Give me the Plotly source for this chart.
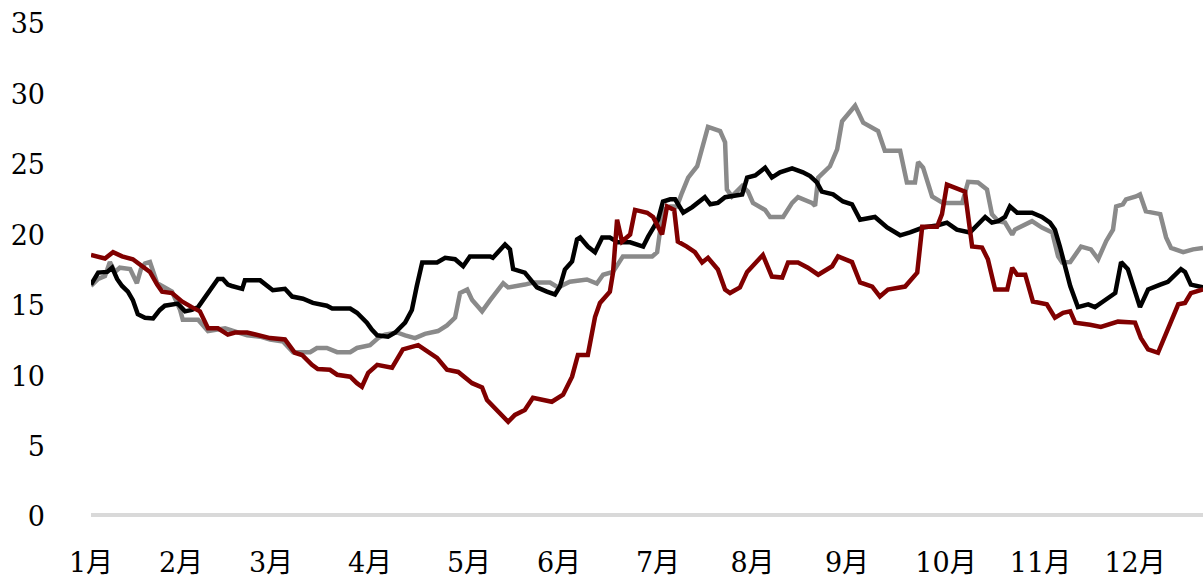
"""Three-series line chart, Jan-Dec, trading-day index on x."""

import plotly.graph_objects as go

# month labels and their trading-day positions
month_labels = ["1月", "2月", "3月", "4月", "5月", "6月",
                "7月", "8月", "9月", "10月", "11月", "12月"]
month_days = [0, 20, 40, 62, 84, 104, 126, 147, 168, 190, 211, 232]

# black series
black_x = [0, 1.6, 3.6, 4.7, 5.8, 6.9, 8.2, 9.3, 10.4, 12, 13.8, 15.3, 16.4, 19.3,
           20.9, 22.4, 23.8, 25.3, 26.9, 28.2, 29.3, 30.4, 31.3, 33.6, 34.2, 37.6,
           40.4, 43.1, 44.7, 47.1, 49.3, 52.4, 53.6, 57.6, 59.1, 61.3, 62.4, 63.6,
           66, 67.6, 69.8, 71.3, 72.4, 73.6, 76.9, 78.7, 80.9, 82.7, 84.2, 88.7,
           89.3, 92, 93.1, 93.8, 96.4, 97.1, 99.1, 101.3, 103.1, 104.2, 105.3,
           106.9, 108, 108.7, 110.4, 112, 113.6, 115.3, 117.1, 119.8, 122.7, 123.8,
           126, 127.1, 128.7, 129.8, 130.9, 131.6, 133.6, 134.9, 136.4, 137.6,
           139.3, 140.9, 144.7, 145.8, 147.6, 149.8, 151.3, 153.1, 155.8, 158.2,
           159.8, 161.3, 162.4, 164.9, 167.1, 169.1, 170.9, 174.2, 176.9, 179.8,
           182, 184.9, 188, 190.2, 192.4, 195.3, 198.7, 200.2, 201.6, 203.1, 204.2,
           205.8, 209.1, 211.3, 213.1, 214.2, 215.3, 217.6, 219.3, 221.6, 223.1,
           224.9, 227.6, 228.9, 230.4, 233.1, 234.9, 237.6, 239.3, 242.2, 243.1,
           244.4, 247.1]
black_y = [16.5, 17.35, 17.4, 17.7, 16.9, 16.4, 16.0, 15.4, 14.4, 14.15, 14.1, 14.7,
           15.0, 15.15, 14.6, 14.7, 14.9, 15.6, 16.4, 16.9, 16.9, 16.5, 16.4, 16.2,
           16.8, 16.8, 16.1, 16.2, 15.65, 15.5, 15.2, 15.0, 14.8, 14.8, 14.5, 13.8,
           13.3, 12.9, 12.8, 13.1, 13.8, 14.7, 16.4, 18.07, 18.07, 18.4, 18.3, 17.8,
           18.5, 18.5, 18.4, 19.35, 19.0, 17.6, 17.35, 17.07, 16.3, 16.0, 15.8,
           16.36, 17.57, 18.14, 19.7, 19.84, 19.2, 18.8, 19.84, 19.84, 19.5, 19.5,
           19.2, 19.9, 21.1, 22.4, 22.55, 22.55, 22.0, 21.6, 22.0, 22.3, 22.7, 22.2,
           22.3, 22.7, 22.9, 24.1, 24.25, 24.8, 24.1, 24.47, 24.75, 24.47, 24.2,
           23.75, 23.1, 22.9, 22.4, 22.2, 21.1, 21.3, 20.55, 20.0, 20.2, 20.55,
           20.7, 20.9, 20.4, 20.2, 21.3, 20.9, 21.0, 21.3, 22.05, 21.6, 21.6, 21.3,
           20.9, 20.4, 19.2, 16.4, 14.9, 15.1, 14.9, 15.3, 15.9, 18.1, 17.6, 14.9,
           16.15, 16.5, 16.7, 17.6, 17.4, 16.5, 16.3]

# gray series
gray_x = [0, 1.6, 3.1, 4.2, 5.3, 6.4, 8.7, 10.2, 11.1, 12, 13.1, 14.7, 15.8, 18,
          19.8, 20.4, 23.8, 26, 29.8, 32, 34.7, 37.6, 39.8, 42.7, 44.9, 48.7, 50.2,
          52.4, 54.7, 57.6, 59.1, 62, 63.8, 65.3, 68, 69.8, 72, 74.2, 77.1, 79.1,
          80.9, 82, 83.6, 84.7, 86.9, 88.7, 89.8, 91.6, 92.7, 94.9, 96.4, 98.2,
          102, 103.8, 106.4, 110.2, 112.4, 113.8, 116, 118.2, 124.7, 125.8, 127.1,
          128.7, 130.2, 131.3, 132.7, 134.7, 135.8, 137.1, 139.8, 140.9, 141.3,
          142.4, 144.7, 146, 147.1, 149.8, 150.9, 153.8, 155.8, 157.1, 160.2,
          160.9, 161.6, 164.2, 165.8, 166.9, 169.8, 171.6, 174.9, 176.4, 179.8,
          181.3, 183.1, 183.8, 184.9, 186.9, 189.3, 193.6, 194.9, 197.1, 199.1,
          200.2, 201.6, 203.1, 204.7, 205.3, 209.1, 211.3, 213.6, 214.9, 215.8,
          217.6, 220, 222.2, 223.8, 225.6, 227.1, 227.8, 229.3, 230, 232.2, 233.1,
          234.4, 237.6, 238.9, 240, 242.7, 244.9, 247.1]
gray_y = [16.4, 16.9, 17.1, 18.1, 17.4, 17.7, 17.6, 16.6, 17.6, 18.0, 18.1, 16.6,
          16.4, 16.0, 14.7, 14.0, 14.0, 13.2, 13.4, 13.2, 12.9, 12.8, 12.6, 12.45,
          11.7, 11.7, 12.0, 12.0, 11.7, 11.7, 12.0, 12.2, 12.7, 12.95, 13.1, 12.9,
          12.7, 13.0, 13.2, 13.6, 14.15, 15.9, 16.15, 15.4, 14.6, 15.4, 15.9, 16.6,
          16.3, 16.4, 16.5, 16.65, 16.65, 16.3, 16.7, 16.86, 16.57, 17.2, 17.4,
          18.5, 18.5, 18.8, 21.8, 22.05, 22.05, 23.0, 24.1, 24.9, 26.1, 27.7, 27.4,
          26.6, 23.25, 22.76, 23.5, 23.1, 22.3, 21.8, 21.3, 21.3, 22.3, 22.7, 22.3,
          22.1, 24.1, 24.9, 26.1, 28.1, 29.2, 28.0, 27.4, 26.0, 26.0, 23.75, 23.75,
          25.2, 24.8, 22.76, 22.3, 22.3, 23.8, 23.75, 23.25, 21.5, 21.0, 20.9,
          20.05, 20.4, 21.0, 20.55, 20.2, 18.5, 18.07, 18.1, 19.2, 19.0, 18.3, 19.6,
          20.4, 22.05, 22.2, 22.55, 22.76, 22.9, 21.7, 21.5, 19.85, 19.1, 18.8,
          19.0, 19.1]

# dark red series
red_x = [0, 3.1, 4.9, 6.9, 9.3, 11.3, 13.1, 14.7, 15.8, 18, 20.2, 22.4, 24.2, 26,
         28.2, 30.4, 32, 34.7, 37.1, 39.8, 43.1, 45.3, 46.9, 49.1, 50.4, 53.1,
         54.7, 57.6, 59.1, 60.2, 61.6, 63.6, 66.9, 69.3, 72.7, 73.6, 76.9, 79.1,
         81.6, 84.7, 86.9, 88, 92.7, 94.2, 96.4, 98.2, 102.4, 104.9, 106.9, 108.2,
         110.4, 112, 113.1, 115.3, 116, 116.9, 118, 119.8, 120.9, 123.6, 124.9,
         126.9, 128, 129.6, 130.4, 132.4, 134.2, 135.8, 137.1, 139.3, 140.9, 142,
         144.2, 145.8, 147.6, 149.3, 151.3, 153.6, 154.9, 157.1, 159.3, 161.6,
         164.7, 166, 169.1, 170.9, 173.6, 175.3, 177.1, 180.9, 183.6, 184.7, 188,
         189.1, 190.2, 193.1, 194.2, 195.8, 198, 199.3, 200.9, 203.6, 204.7,
         205.8, 207.6, 209.3, 212.4, 214.2, 216, 217.6, 218.7, 222, 224.4, 228.2,
         232, 233.3, 234.9, 237.1, 239.8, 241.6, 243.1, 244.4, 247.1]
red_y = [18.6, 18.35, 18.8, 18.5, 18.3, 17.8, 17.4, 16.5, 16.0, 15.9, 15.3, 14.9,
         14.6, 13.4, 13.4, 12.95, 13.1, 13.1, 12.95, 12.7, 12.6, 11.66, 11.5, 10.8,
         10.5, 10.45, 10.1, 9.96, 9.5, 9.25, 10.24, 10.8, 10.6, 11.9, 12.2, 12.0,
         11.3, 10.45, 10.3, 9.5, 9.2, 8.3, 6.76, 7.25, 7.6, 8.46, 8.18, 8.68, 9.96,
         11.5, 11.5, 14.2, 15.2, 16.0, 17.35, 21.1, 19.56, 20.06, 21.8, 21.6, 21.3,
         20.06, 22.05, 21.8, 19.56, 19.2, 18.8, 18.07, 18.4, 17.57, 16.15, 15.9,
         16.3, 17.4, 18.07, 18.6, 17.07, 17.0, 18.07, 18.07, 17.7, 17.2, 17.8, 18.5,
         18.1, 16.65, 16.36, 15.65, 16.15, 16.36, 17.35, 20.6, 20.6, 21.5, 23.6,
         23.25, 23.1, 19.2, 19.13, 18.3, 16.15, 16.15, 17.7, 17.2, 17.2, 15.3,
         15.1, 14.15, 14.5, 14.6, 13.8, 13.65, 13.5, 13.87, 13.8, 12.7, 11.9,
         11.66, 13.8, 15.1, 15.2, 15.9, 16.15]

y_ticks = [0, 5, 10, 15, 20, 25, 30, 35]

FONT = "DejaVu Serif, Noto Sans CJK SC, serif"

fig = go.Figure()
for xs, ys, color in [(gray_x, gray_y, "#8A8A8A"),
                      (black_x, black_y, "#000000"),
                      (red_x, red_y, "#800000")]:
    fig.add_trace(go.Scatter(x=xs, y=ys, mode="lines",
                             line=dict(color=color, width=4.5), showlegend=False))

# light gray baseline at zero
fig.add_shape(type="line", xref="x", yref="y", x0=0, x1=247.1, y0=0, y1=0,
              line=dict(color="#D9D9D9", width=8), layer="below")

fig.update_layout(
    width=1203,
    height=578,
    paper_bgcolor="white",
    plot_bgcolor="white",
    margin=dict(l=91, r=0, t=24, b=61, autoexpand=False),
    font=dict(family=FONT, size=27, color="#000000"),
)
fig.update_xaxes(
    range=[0, 247.1],
    tickvals=month_days,
    ticktext=month_labels,
    showgrid=False, zeroline=False, showline=False,
    ticks="", ticklabelstandoff=27, automargin=False,
    tickfont=dict(family=FONT, size=27),
)
fig.update_yaxes(
    range=[0, 35],
    tickvals=y_ticks,
    showgrid=False, zeroline=False, showline=False,
    ticks="", ticklabelstandoff=45, automargin=False,
    tickfont=dict(family=FONT, size=27),
)

# drop the page's default 8px body margin so the figure sits at (0, 0)
fig.write_html("out.html",
               config={"displayModeBar": False},
               post_script="document.body.style.margin='0';"
                           "document.body.style.overflow='hidden';")
